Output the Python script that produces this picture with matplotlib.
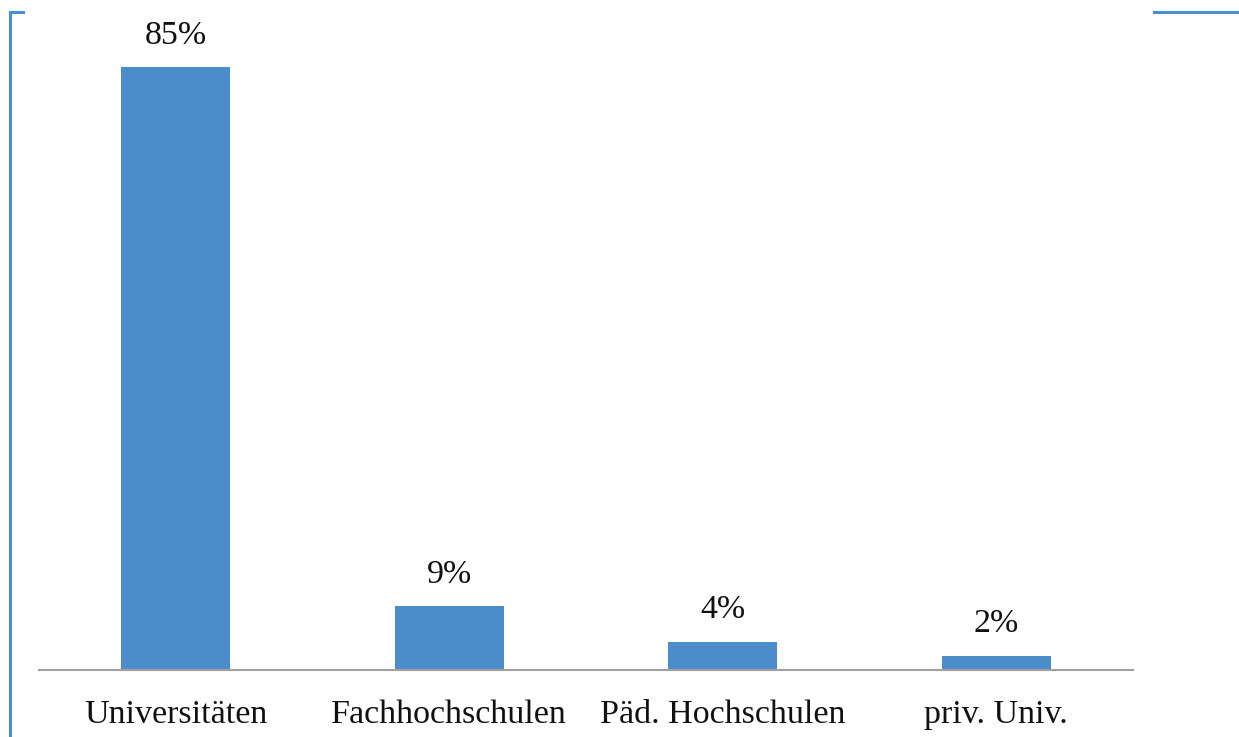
import matplotlib
matplotlib.use('Agg')
import matplotlib.pyplot as plt
from matplotlib.lines import Line2D

# data
categories = ['Universitäten', 'Fachhochschulen', 'Päd. Hochschulen', 'priv. Univ.']
shares = [85, 9, 4, 2]
value_labels = ['85%', '9%', '4%', '2%']

bar_color = '#4A8DCA'
frame_color = '#4A8FCF'

plt.rcParams['font.family'] = ['Liberation Serif', 'DejaVu Serif']

W, H = 1239, 737
fig = plt.figure(figsize=(W / 100, H / 100), dpi=100)
ax = fig.add_axes([39 / W, (H - 670) / H, (1133 - 39) / W, (670 - 32) / H])

x = range(len(categories))
bars = ax.bar(x, shares, width=0.4, color=bar_color, zorder=2)

for b, lab in zip(bars, value_labels):
    ax.annotate(lab, (b.get_x() + b.get_width() / 2, b.get_height()),
                xytext=(0, 12), textcoords='offset points',
                ha='center', va='bottom', fontsize=24.5, color='#111111')

ax.set_xlim(-0.5, 3.5)
ax.set_ylim(0, 90)
ax.set_xticks(list(x))
ax.set_xticklabels(categories, fontsize=24.5, color='#111111')
ax.tick_params(axis='x', length=0, pad=21)
ax.set_yticks([])
for s in ['top', 'right', 'left']:
    ax.spines[s].set_visible(False)
ax.spines['bottom'].set_color('#A0A0A0')
ax.spines['bottom'].set_linewidth(1.5)

# blue frame fragments around the picture
def px(xp, yp):
    return xp / W, 1 - yp / H

fig.add_artist(Line2D([px(10, 0)[0], px(10, 0)[0]], [px(0, 12)[1], px(0, 737)[1]],
                      color=frame_color, lw=2.2, transform=fig.transFigure))
fig.add_artist(Line2D([px(10, 0)[0], px(23, 0)[0]], [px(0, 12)[1], px(0, 12)[1]],
                      color=frame_color, lw=2.2, transform=fig.transFigure))
fig.add_artist(Line2D([px(1154, 0)[0], px(1239, 0)[0]], [px(0, 12)[1], px(0, 12)[1]],
                      color=frame_color, lw=2.2, transform=fig.transFigure))

fig.savefig('out.png', dpi=100)
